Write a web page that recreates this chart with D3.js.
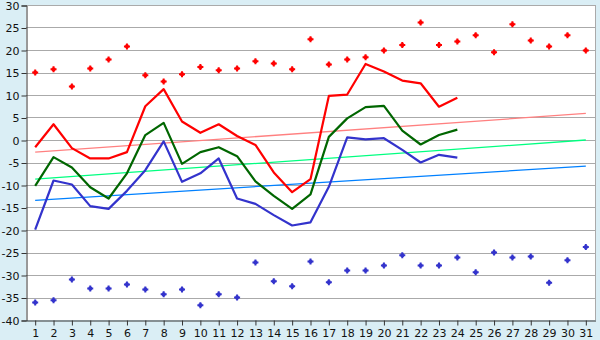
<!DOCTYPE html>
<html>
<head>
<meta charset="utf-8">
<script src="https://cdn.jsdelivr.net/npm/d3@7"></script>
<style>
  html, body { margin: 0; padding: 0; background: #daeef5; }
  svg { display: block; }
  text { font-family: "DejaVu Sans", Verdana, sans-serif; font-size: 11px; fill: #111; }
</style>
</head>
<body>
<svg id="chart" width="600" height="340"></svg>
<script>
// Days of the month
const days = [1,2,3,4,5,6,7,8,9,10,11,12,13,14,15,16,17,18,19,20,21,22,23,24,25,26,27,28,29,30,31];

// Y-axis tick values
const yTicks = [30,25,20,15,10,5,0,-5,-10,-15,-20,-25,-30,-35,-40];

// Record highs (markers)
const recordMax = [15.0,15.7,11.9,15.9,17.9,20.8,14.4,13.0,14.6,16.2,15.5,15.9,17.5,17.0,15.7,22.4,16.8,17.9,18.4,19.9,21.1,26.1,21.1,21.9,23.3,19.5,25.7,22.1,20.8,23.3,19.9];

// Record lows (markers)
const recordMin = [-36.1,-35.6,-31.0,-33.0,-33.0,-32.1,-33.2,-34.3,-33.2,-36.7,-34.3,-35.0,-27.2,-31.4,-32.5,-27.0,-31.6,-29.0,-29.0,-27.9,-25.6,-27.9,-27.9,-26.1,-29.4,-25.0,-26.1,-25.9,-31.7,-26.7,-23.8];

// Daily maximum, mean and minimum (days 1-24)
const dailyMax  = [-1.6,3.5,-1.8,-4.1,-4.1,-2.7,7.5,11.3,4.1,1.6,3.5,0.9,-1.1,-7.2,-11.6,-8.7,9.8,10.1,16.9,15.2,13.2,12.6,7.4,9.4];
const dailyMean = [-10.2,-3.8,-6.1,-10.5,-13.0,-7.4,1.1,3.8,-5.3,-2.7,-1.6,-3.6,-9.2,-12.4,-15.3,-12.1,0.7,4.8,7.3,7.6,2.1,-1.0,1.1,2.3];
const dailyMin  = [-19.9,-9.0,-9.9,-14.7,-15.3,-11.3,-6.7,-0.3,-9.3,-7.4,-4.1,-13.0,-14.2,-16.7,-19.0,-18.3,-10.4,0.6,0.15,0.4,-2.2,-5.0,-3.3,-3.9];

// Normal values at day 1 and day 31 (straight trend lines)
const normalMax  = [-2.7, 5.9];
const normalMean = [-8.7, 0.0];
const normalMin  = [-13.4, -5.8];

const svg = d3.select("#chart");
const plotLeft = 26, plotRight = 595, plotTop = 5, plotBottom = 320;

const x = d3.scaleBand().domain(days).range([plotLeft, plotRight]).padding(0);
const cx = d => x(d) + x.bandwidth() / 2;
const y = d3.scaleLinear().domain([-40, 30]).range([plotBottom, plotTop]);

// Plot background
svg.append("rect")
  .attr("x", plotLeft).attr("y", plotTop)
  .attr("width", plotRight - plotLeft).attr("height", plotBottom - plotTop)
  .attr("fill", "#ffffff");

// Horizontal gridlines
svg.append("g")
  .selectAll("line")
  .data(yTicks.filter(v => v > -40))
  .join("line")
  .attr("x1", plotLeft).attr("x2", plotRight)
  .attr("y1", d => Math.round(y(d)) + 0.5).attr("y2", d => Math.round(y(d)) + 0.5)
  .attr("stroke", "#aaaaaa").attr("stroke-width", 1);

// Right border
svg.append("line")
  .attr("x1", plotRight + 0.5).attr("x2", plotRight + 0.5)
  .attr("y1", plotTop).attr("y2", plotBottom)
  .attr("stroke", "#aaaaaa");

// Axes
const yAxis = d3.axisLeft(y).tickValues(yTicks).tickSize(5).tickPadding(2)
  .tickFormat(d => d < 0 ? "-" + Math.abs(d) : d);
const gy = svg.append("g").attr("transform", `translate(${plotLeft + 0.5},0.5)`).call(yAxis);
gy.select(".domain").attr("stroke", "#333");
gy.selectAll(".tick line").attr("stroke", "#333");

const xAxis = d3.axisBottom(x).tickSize(5).tickPadding(4).tickSizeOuter(0);
const gx = svg.append("g").attr("transform", `translate(0.5,${plotBottom + 0.5})`).call(xAxis);
gx.select(".domain").attr("stroke", "#333");
gx.selectAll(".tick line").attr("stroke", "#333");

svg.selectAll(".tick text").style("font-family", '"DejaVu Sans", Verdana, sans-serif')
  .style("font-size", "11px").attr("fill", "#111");

// Trend lines across the whole month
const trends = [
  { v: normalMax,  color: "#ff8080" },
  { v: normalMean, color: "#00ff80" },
  { v: normalMin,  color: "#0080ff" }
];
svg.append("g").selectAll("line")
  .data(trends)
  .join("line")
  .attr("x1", cx(days[0])).attr("x2", cx(days[days.length - 1]))
  .attr("y1", d => y(d.v[0])).attr("y2", d => y(d.v[1]))
  .attr("stroke", d => d.color).attr("stroke-width", 1.3);

// Daily series lines
const line = d3.line().x((d, i) => cx(days[i])).y(d => y(d));
const series = [
  { v: dailyMax,  color: "#ff0000" },
  { v: dailyMean, color: "#006600" },
  { v: dailyMin,  color: "#3333cc" }
];
svg.append("g").selectAll("path")
  .data(series)
  .join("path")
  .attr("d", d => line(d.v))
  .attr("fill", "none")
  .attr("stroke", d => d.color)
  .attr("stroke-width", 2.2)
  .attr("stroke-linejoin", "round");

// Record markers: a small plus with a solid centre
const crossPath = d3.symbol(d3.symbolCross, 20)();
const squarePath = d3.symbol(d3.symbolSquare, 12)();
function drawMarkers(values, color) {
  const g = svg.append("g").selectAll("g")
    .data(values)
    .join("g")
    .attr("transform", (d, i) => `translate(${cx(days[i])},${y(d)})`)
    .attr("fill", color);
  g.append("path").attr("d", crossPath);
  g.append("path").attr("d", squarePath);
}
drawMarkers(recordMax, "#ff0000");
drawMarkers(recordMin, "#3333cc");
</script>
</body>
</html>
